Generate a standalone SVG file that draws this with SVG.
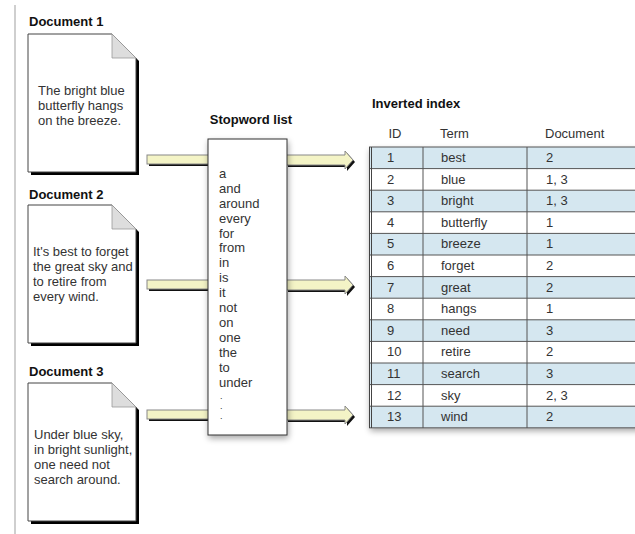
<svg xmlns="http://www.w3.org/2000/svg" width="635" height="534" viewBox="0 0 635 534">
<defs>
<filter id="soft" x="-20%" y="-20%" width="140%" height="140%">
<feGaussianBlur in="SourceAlpha" stdDeviation="3"/>
<feOffset dx="1" dy="3" result="b"/>
<feComponentTransfer><feFuncA type="linear" slope="0.35"/></feComponentTransfer>
<feMerge><feMergeNode/><feMergeNode in="SourceGraphic"/></feMerge>
</filter>
</defs>
<style>
text{font-family:"Liberation Sans",Arial,Helvetica,sans-serif;font-size:13px;fill:#333}
.title{font-weight:bold;fill:#111}
.dot{font-size:9px}
.page{fill:#fff;stroke:#444;stroke-width:1}
.shadow{fill:#000}
.fold{fill:#ddd;stroke:#999;stroke-width:0.8}
.bar{fill:#f4f4c6;stroke:#888;stroke-width:1}
.barsh{fill:#111}
.odd{fill:#d5e7f0}
.grid{stroke:#555;stroke-width:1;fill:none}
</style>
<rect width="635" height="534" fill="#fff"/>
<line x1="15" y1="5" x2="15" y2="534" stroke="#cfcfcf" stroke-width="2"/>

<g id="doc1">
<text class="title" x="29" y="26">Document 1</text>
<polygon class="shadow" points="31,37 115,37 139,61 139,175 31,175"/>
<polygon class="page" points="28,34 112,34 136,58 136,172 28,172"/>
<polygon class="fold" points="112,34 112,58 136,58"/>
<text x="38" y="95">The bright blue</text>
<text x="38" y="110">butterfly hangs</text>
<text x="38" y="125">on the breeze.</text>
</g>

<g id="doc2">
<text class="title" x="29" y="199">Document 2</text>
<polygon class="shadow" points="31,208 115,208 139,232 139,346 31,346"/>
<polygon class="page" points="28,205 112,205 136,229 136,343 28,343"/>
<polygon class="fold" points="112,205 112,229 136,229"/>
<text x="33" y="256">It's best to forget</text>
<text x="33" y="271">the great sky and</text>
<text x="33" y="286">to retire from</text>
<text x="33" y="301">every wind.</text>
</g>

<g id="doc3">
<text class="title" x="29" y="376">Document 3</text>
<polygon class="shadow" points="31,386 115,386 139,410 139,524 31,524"/>
<polygon class="page" points="28,383 112,383 136,407 136,521 28,521"/>
<polygon class="fold" points="112,383 112,407 136,407"/>
<text x="34" y="439">Under blue sky,</text>
<text x="34" y="454">in bright sunlight,</text>
<text x="34" y="469">one need not</text>
<text x="34" y="484">search around.</text>
</g>

<g id="connectors">
<rect class="barsh" x="149" y="157" width="62" height="9"/>
<rect class="bar" x="147" y="155" width="62" height="9"/>
<rect class="barsh" x="149" y="282" width="62" height="9"/>
<rect class="bar" x="147" y="280" width="62" height="9"/>
<rect class="barsh" x="149" y="412" width="62" height="9"/>
<rect class="bar" x="147" y="410" width="62" height="9"/>

<polygon class="barsh" points="288,157 347,157 347,153 355,162 347,171 347,167 288,167"/>
<polygon class="bar" points="286,155 345,155 345,151 353,160 345,169 345,165 286,165"/>
<polygon class="barsh" points="288,282 347,282 347,278 355,287 347,296 347,292 288,292"/>
<polygon class="bar" points="286,280 345,280 345,276 353,285 345,294 345,290 286,290"/>
<polygon class="barsh" points="288,412 347,412 347,408 355,417 347,426 347,422 288,422"/>
<polygon class="bar" points="286,410 345,410 345,406 353,415 345,424 345,420 286,420"/>
</g>

<g id="stopwords">
<text class="title" x="251" y="124" text-anchor="middle">Stopword list</text>
<rect x="208" y="139" width="79" height="296" fill="#fff" stroke="#333" stroke-width="1" filter="url(#soft)"/>
<text x="219" y="178">a</text>
<text x="219" y="193">and</text>
<text x="219" y="208">around</text>
<text x="219" y="223">every</text>
<text x="219" y="238">for</text>
<text x="219" y="252">from</text>
<text x="219" y="267">in</text>
<text x="219" y="282">is</text>
<text x="219" y="297">it</text>
<text x="219" y="312">not</text>
<text x="219" y="327">on</text>
<text x="219" y="342">one</text>
<text x="219" y="357">the</text>
<text x="219" y="372">to</text>
<text x="219" y="387">under</text>
<text class="dot" x="220" y="399">.</text>
<text class="dot" x="220" y="409">.</text>
<text class="dot" x="220" y="419">.</text>
</g>

<g id="index">
<text class="title" x="372" y="108">Inverted index</text>
<text x="395" y="138" text-anchor="middle">ID</text>
<text x="440" y="138">Term</text>
<text x="545" y="138">Document</text>
<rect x="369" y="147" width="275" height="281" fill="#fff" filter="url(#soft)"/>
<rect class="odd" x="369" y="147" width="275" height="21.6"/>
<rect class="odd" x="369" y="190.2" width="275" height="21.6"/>
<rect class="odd" x="369" y="233.4" width="275" height="21.6"/>
<rect class="odd" x="369" y="276.6" width="275" height="21.6"/>
<rect class="odd" x="369" y="319.8" width="275" height="21.6"/>
<rect class="odd" x="369" y="363" width="275" height="21.6"/>
<rect class="odd" x="369" y="406.2" width="275" height="21.6"/>
<path class="grid" d="M369,147H644M369,168.6H644M369,190.2H644M369,211.8H644M369,233.4H644M369,255H644M369,276.6H644M369,298.2H644M369,319.8H644M369,341.4H644M369,363H644M369,384.6H644M369,406.2H644M369,427.8H644M423,147V428M527,147V428"/>
<path d="M369.5,147V428M371.5,147V428" stroke="#444" stroke-width="1"/>
<g>
<text x="387" y="162">1</text><text x="441" y="162">best</text><text x="546" y="162">2</text>
<text x="387" y="183.6">2</text><text x="441" y="183.6">blue</text><text x="546" y="183.6">1, 3</text>
<text x="387" y="205.2">3</text><text x="441" y="205.2">bright</text><text x="546" y="205.2">1, 3</text>
<text x="387" y="226.8">4</text><text x="441" y="226.8">butterfly</text><text x="546" y="226.8">1</text>
<text x="387" y="248.4">5</text><text x="441" y="248.4">breeze</text><text x="546" y="248.4">1</text>
<text x="387" y="270">6</text><text x="441" y="270">forget</text><text x="546" y="270">2</text>
<text x="387" y="291.6">7</text><text x="441" y="291.6">great</text><text x="546" y="291.6">2</text>
<text x="387" y="313.2">8</text><text x="441" y="313.2">hangs</text><text x="546" y="313.2">1</text>
<text x="387" y="334.8">9</text><text x="441" y="334.8">need</text><text x="546" y="334.8">3</text>
<text x="387" y="356.4">10</text><text x="441" y="356.4">retire</text><text x="546" y="356.4">2</text>
<text x="387" y="378">11</text><text x="441" y="378">search</text><text x="546" y="378">3</text>
<text x="387" y="399.6">12</text><text x="441" y="399.6">sky</text><text x="546" y="399.6">2, 3</text>
<text x="387" y="421.2">13</text><text x="441" y="421.2">wind</text><text x="546" y="421.2">2</text>
</g>
</g>
</svg>
